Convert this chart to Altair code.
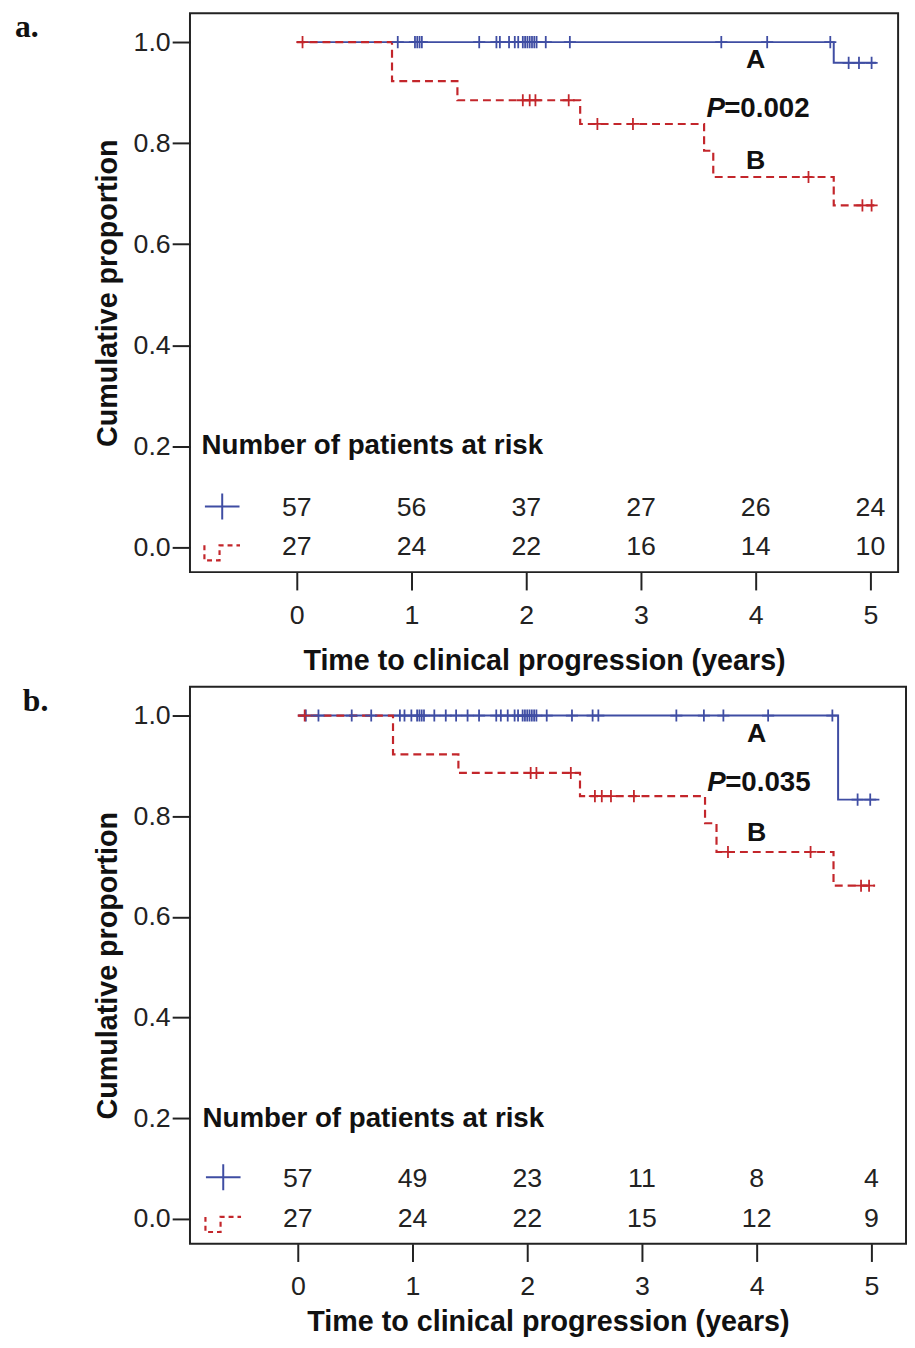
import altair as alt
import pandas as pd

BLUE = "#3f4da3"
RED = "#c3262b"
FONT = "Liberation Sans"

# ---------------- Panel a data ----------------
a_blue_t = [0.0, 4.68, 5.05]
a_blue_s = [1.0, 0.959, 0.959]
a_blue_cens = [0.88, 1.03, 1.05, 1.07, 1.09, 1.59, 1.74, 1.77, 1.85, 1.90, 1.93,
               1.97, 1.99, 2.01, 2.03, 2.05, 2.07, 2.09, 2.17, 2.38, 3.70, 4.10,
               4.65, 4.81, 4.90, 5.01]
a_red_t = [0.0, 0.83, 1.40, 2.47, 3.55, 3.63, 4.68, 5.05]
a_red_s = [1.0, 0.923, 0.885, 0.838, 0.785, 0.733, 0.677, 0.677]
a_red_cens = [0.05, 1.97, 2.03, 2.08, 2.37, 2.62, 2.93, 4.46, 4.93, 5.01]
a_risk_A = [57, 56, 37, 27, 26, 24]
a_risk_B = [27, 24, 22, 16, 14, 10]
a_pval = "=0.002"

# ---------------- Panel b data ----------------
b_blue_t = [0.0, 4.71, 5.07]
b_blue_s = [1.0, 0.833, 0.833]
b_blue_cens = [0.07, 0.18, 0.47, 0.64, 0.89, 0.93, 0.99, 1.04, 1.06, 1.08, 1.10,
               1.19, 1.29, 1.38, 1.48, 1.58, 1.73, 1.77, 1.83, 1.89, 1.92, 1.96,
               1.98, 2.00, 2.02, 2.04, 2.06, 2.08, 2.17, 2.39, 2.57, 2.62, 3.30,
               3.54, 3.71, 4.10, 4.66, 4.88, 4.99]
b_red_t = [0.0, 0.83, 1.40, 2.46, 3.55, 3.65, 4.67, 5.03]
b_red_s = [1.0, 0.923, 0.886, 0.840, 0.786, 0.729, 0.662, 0.662]
b_red_cens = [0.06, 2.03, 2.08, 2.38, 2.59, 2.65, 2.73, 2.93, 3.75, 4.47, 4.91, 4.98]
b_risk_A = [57, 49, 23, 11, 8, 4]
b_risk_B = [27, 24, 22, 15, 12, 9]
b_pval = "=0.035"

years = [0, 1, 2, 3, 4, 5]
y_ticks = [0.0, 0.2, 0.4, 0.6, 0.8, 1.0]

PLUS = "M-1,0L1,0M0,-1L0,1"
LEG_PLUS = "M-1,0L1,0M0,-0.75L0,0.75"
LEG_DASH = "M-1,-0.4L-1,0.45L-0.15,0.45L-0.15,-0.4L1,-0.4"


def step_value(ts, ss, t):
    v = ss[0]
    for ti, si in zip(ts, ss):
        if t >= ti:
            v = si
    return v


def panel(letter, letter_x, letter_y, x_dom, y_dom, width, height, blue_t, blue_s, blue_c,
          red_t, red_s, red_c, riskA, riskB, pval, pos, label_pad, title_pad):
    x_enc = alt.X("x:Q", scale=alt.Scale(domain=x_dom, nice=False, zero=False),
                  axis=alt.Axis(values=years, title="Time to clinical progression (years)",
                                grid=False, domain=False, tickSize=18, tickWidth=2,
                                tickColor="#222", labelFont=FONT, labelFontSize=27,
                                labelColor="#222", labelPadding=label_pad, titleFont=FONT,
                                titleFontSize=29, titleFontWeight="bold",
                                titleColor="#111", titlePadding=title_pad))
    y_enc = alt.Y("y:Q", scale=alt.Scale(domain=y_dom, nice=False, zero=False),
                  axis=alt.Axis(values=y_ticks, format=".1f", title="Cumulative proportion",
                                grid=False, domain=False, tickSize=18, tickWidth=2,
                                tickColor="#222", labelFont=FONT, labelFontSize=27,
                                labelColor="#222", labelPadding=2, titleFont=FONT,
                                titleFontSize=29, titleFontWeight="bold",
                                titleColor="#111", titlePadding=11))

    blue_df = pd.DataFrame({"x": blue_t, "y": blue_s})
    red_df = pd.DataFrame({"x": red_t, "y": red_s})
    bc_df = pd.DataFrame({"x": blue_c, "y": [step_value(blue_t, blue_s, t) for t in blue_c]})
    rc_df = pd.DataFrame({"x": red_c, "y": [step_value(red_t, red_s, t) for t in red_c]})
    risk_df = pd.DataFrame({"x": years + years,
                            "y": [pos["rowA"]] * 6 + [pos["rowB"]] * 6,
                            "n": [str(v) for v in riskA + riskB]})

    blue_line = alt.Chart(blue_df).mark_line(interpolate="step-after", color=BLUE,
                                             strokeWidth=2).encode(x=x_enc, y=y_enc)
    red_line = alt.Chart(red_df).mark_line(interpolate="step-after", color=RED,
                                           strokeWidth=2.2, strokeDash=[8, 5]).encode(x=x_enc, y=y_enc)
    blue_cens = alt.Chart(bc_df).mark_point(shape=PLUS, size=150, color=BLUE, filled=False,
                                            strokeWidth=1.8, opacity=1).encode(x=x_enc, y=y_enc)
    red_cens = alt.Chart(rc_df).mark_point(shape=PLUS, size=150, color=RED, filled=False,
                                           strokeWidth=1.8, opacity=1).encode(x=x_enc, y=y_enc)
    risk = alt.Chart(risk_df).mark_text(font=FONT, fontSize=27, color="#222",
                                        baseline="middle").encode(x=x_enc, y=y_enc, text="n:N")
    header = alt.Chart(pd.DataFrame({"x": [pos["hx"]], "y": [pos["hy"]],
                                     "t": ["Number of patients at risk"]})).mark_text(
        font=FONT, fontSize=28, fontWeight="bold", color="#111", align="left",
        baseline="middle").encode(x=x_enc, y=y_enc, text="t:N")
    leg_a = alt.Chart(pd.DataFrame({"x": [pos["lx"]], "y": [pos["rowA"] + 0.004]})).mark_point(
        shape=LEG_PLUS, size=1225, color=BLUE, filled=False, strokeWidth=2, opacity=1
    ).encode(x=x_enc, y=y_enc)
    leg_b = alt.Chart(pd.DataFrame({"x": [pos["lx"]], "y": [pos["rowB"] - 0.01]})).mark_point(
        shape=LEG_DASH, size=1296, color=RED, filled=False, strokeWidth=2.2,
        strokeDash=[5, 4], opacity=1
    ).encode(x=x_enc, y=y_enc)
    labels = alt.Chart(pd.DataFrame({"x": [4.0, 4.0], "y": [pos["Ay"], pos["By"]],
                                     "t": ["A", "B"]})).mark_text(
        font=FONT, fontSize=27, fontWeight="bold", color="#111", baseline="middle"
    ).encode(x=x_enc, y=y_enc, text="t:N")
    p_it = alt.Chart(pd.DataFrame({"x": [3.57], "y": [pos["Py"]], "t": ["P"]})).mark_text(
        font=FONT, fontSize=28, fontWeight="bold", fontStyle="italic", color="#111",
        align="left", baseline="middle").encode(x=x_enc, y=y_enc, text="t:N")
    p_val = alt.Chart(pd.DataFrame({"x": [3.57], "y": [pos["Py"]], "t": [pval]})).mark_text(
        font=FONT, fontSize=28, fontWeight="bold", color="#111", align="left",
        baseline="middle", dx=18).encode(x=x_enc, y=y_enc, text="t:N")
    let = alt.Chart(pd.DataFrame({"t": [letter]})).mark_text(
        font="Liberation Serif", fontSize=32, fontWeight="bold", color="#111",
        align="left", baseline="alphabetic").encode(
        x=alt.value(letter_x), y=alt.value(letter_y), text="t:N")

    return alt.layer(blue_line, red_line, blue_cens, red_cens, risk, header, leg_a, leg_b,
                     labels, p_it, p_val, let).properties(
        width=width, height=height,
        view=alt.ViewBackground(stroke="#222", strokeWidth=2))


pa = panel("a.", -177, 24, [-0.931, 5.241], [-0.049, 1.057], 716, 565,
           a_blue_t, a_blue_s, a_blue_cens,
           a_red_t, a_red_s, a_red_cens, a_risk_A, a_risk_B, a_pval,
           dict(rowA=0.077, rowB=0.0, hx=-0.83, hy=0.2, lx=-0.65, Ay=0.965, By=0.765, Py=0.867),
           13, 18)
pb = panel("b.", -169, 24, [-0.94, 5.302], [-0.049, 1.057], 724, 563,
           b_blue_t, b_blue_s, b_blue_cens,
           b_red_t, b_red_s, b_red_cens, b_risk_A, b_risk_B, b_pval,
           dict(rowA=0.079, rowB=0.0, hx=-0.83, hy=0.198, lx=-0.65, Ay=0.963, By=0.767, Py=0.865),
           12, 9)

chart = alt.concat(pa, pb, columns=1, spacing=8, align="none").properties(
    padding={"left": 6, "top": -5, "right": 0, "bottom": -7}
).configure(background="white").configure_view(stroke="#222", strokeWidth=2)

chart.save("out.html", embed_options={"renderer": "svg", "actions": False})
